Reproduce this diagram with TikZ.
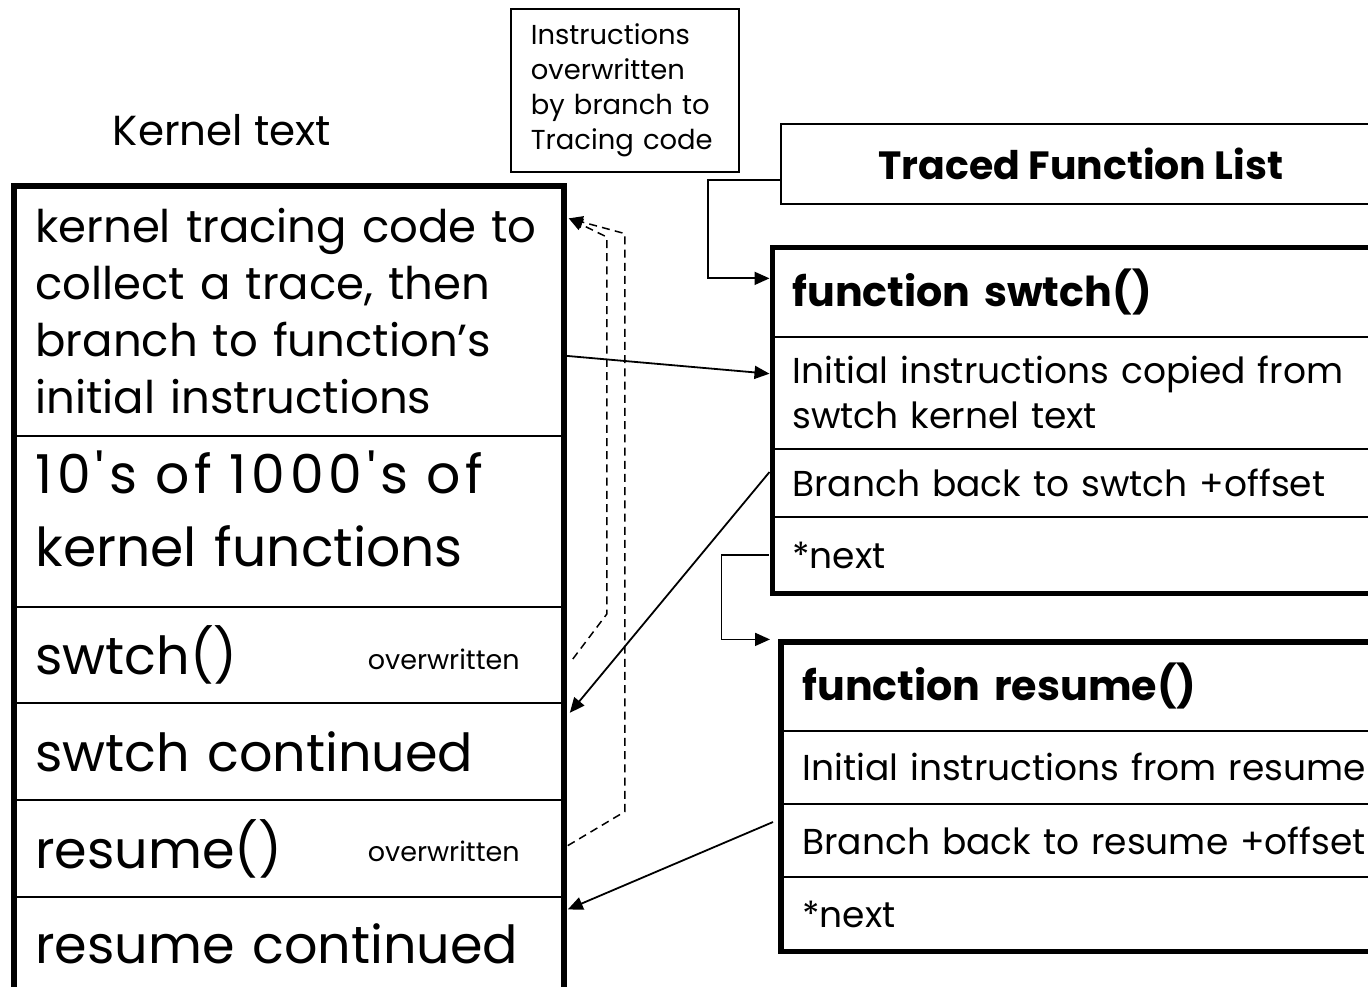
\documentclass[tikz,border=0pt]{standalone}
\usepackage{fontspec}
\setmainfont{Poppins}[Ligatures=TeXOff]
\usetikzlibrary{arrows.meta}
\tikzset{
  cell/.style={anchor=north west, inner xsep=10.5pt, inner ysep=0pt, align=left},
  divider/.style={line width=1pt},
  outer/.style={line width=2.7pt},
  conn/.style={line width=0.9pt, -{Triangle[length=7.5pt,width=6.5pt]}},
  dashconn/.style={line width=0.75pt, dash pattern=on 4pt off 2.6pt, -{Triangle[length=7pt,width=6pt]}},
  big/.style={font=\fontsize{26.2pt}{37.5pt}\selectfont},
  huge/.style={font=\fontsize{26.8pt}{36.5pt}\selectfont},
  mid/.style={font=\fontsize{22.5pt}{28.5pt}\selectfont},
  rtxt/.style={font=\fontsize{18pt}{22.5pt}\selectfont},
  rtitle/.style={font=\fontsize{20.6pt}{24pt}\selectfont\bfseries},
  small/.style={font=\fontsize{13.5pt}{15pt}\selectfont},
}
\begin{document}
\begin{tikzpicture}[x=0.5pt,y=-0.5pt]
\useasboundingbox (0,0) rectangle (1368,986);
\clip (0,0) rectangle (1368,986);

% Kernel text label
\node[font=\fontsize{21pt}{24pt}\selectfont] (ktl) at (222,130) {Kernel text};

% Left box cells
\node[cell, mid, text width=253.5pt, minimum height=124.5pt] (k1) at (14,186)
  {kernel tracing code to\\collect a trace, then\\branch to function’s\\initial instructions};
\node[cell, huge, text width=253.5pt, minimum height=85pt] (k2) at (k1.south west)
  {{\addfontfeature{LetterSpace=9}10's of 1000's of}\\kernel functions\rule[-13pt]{0pt}{1pt}};
\node[cell, big, text width=253.5pt, minimum height=48pt] (k3) at (k2.south west) {swtch()};
\node[cell, big, text width=253.5pt, minimum height=48pt] (k4) at (k3.south west) {swtch continued};
\node[cell, big, text width=253.5pt, minimum height=48pt] (k5) at (k4.south west) {resume()};
\node[cell, big, text width=253.5pt, minimum height=46pt] (k6) at (k5.south west) {resume continued};
\node[anchor=base east, inner sep=0pt, small] (ow1) at (520,669) {overwritten};
\node[anchor=base east, inner sep=0pt, small] (ow2) at (520,861) {overwritten};
\foreach \c in {k1,k2,k3,k4,k5}{\draw[divider] (\c.south west) -- (\c.south east);}
\draw[outer] ([yshift=-20pt]k6.south west) -- (k1.north west) -- (k1.north east) -- ([yshift=-20pt]k6.south east);

% Instructions note
\node[draw, line width=0.9pt, anchor=north west, inner xsep=10pt, inner ysep=0pt, text width=94pt, minimum height=81.5pt, align=left,
  font=\fontsize{13.7pt}{17.5pt}\selectfont] (note) at (510,8)
  {Instructions\\overwritten\\by branch to\\Tracing code};

% Traced Function List
\node[draw, line width=0.9pt, anchor=north west, minimum width=300pt, minimum height=40pt,
  font=\fontsize{19.7pt}{22pt}\selectfont\bfseries] (tfl) at (780,123) {Traced Function List};

% swtch box
\node[cell, rtitle, inner xsep=9.75pt, text width=294.5pt, minimum height=44.25pt] (s1) at (772.5,247.5) {function swtch()};
\node[cell, rtxt, inner xsep=9.75pt, text width=294.5pt, minimum height=55.5pt] (s2) at (s1.south west)
  {Initial instructions copied from\\swtch kernel text};
\node[cell, rtxt, inner xsep=9.75pt, text width=294.5pt, minimum height=34pt] (s3) at (s2.south west) {Branch back to swtch +offset};
\node[cell, rtxt, inner xsep=9.75pt, text width=294.5pt, minimum height=37.5pt] (s4) at (s3.south west) {*next};
\foreach \c in {s1,s2,s3}{\draw[divider] (\c.south west) -- (\c.south east);}
\draw[outer] (s1.north east) -- (s1.north west) -- (s4.south west) -- (s4.south east);

% resume box
\node[cell, rtitle, text width=288.5pt, minimum height=44pt] (r1) at (781,642) {function resume()};
\node[cell, rtxt, text width=288.5pt, minimum height=36pt] (r2) at (r1.south west) {Initial instructions from resume};
\node[cell, rtxt, text width=288.5pt, minimum height=36.5pt] (r3) at (r2.south west) {Branch back to resume +offset};
\node[cell, rtxt, text width=288.5pt, minimum height=36.5pt] (r4) at (r3.south west) {*next};
\foreach \c in {r1,r2,r3}{\draw[divider] (\c.south west) -- (\c.south east);}
\draw[outer] (r1.north east) -- (r1.north west) -- (r4.south west) -- (r4.south east);

% connectors
\draw[conn] ([yshift=-8pt]tfl.west) -- ++(-72,0) |- ([xshift=-1.5pt,yshift=6.9pt]s1.west);
\draw[conn] ([xshift=-2pt]s4.west) -- ++(-47,0) |- ([xshift=-5.5pt,yshift=23.5pt]r1.west);
\draw[conn] ([xshift=1.5pt,yshift=-22.5pt]k1.east) -- ([xshift=-1.5pt,yshift=9.5pt]s2.west);
\draw[conn] ([xshift=-1.5pt,yshift=5.5pt]s3.west) -- ([xshift=3pt,yshift=19.5pt]k4.east);
\draw[conn] ([xshift=-4pt,yshift=9.25pt]r3.west) -- ([xshift=2pt,yshift=17pt]k6.east);

% dashed overwrite paths
\draw[dashconn] ([xshift=4.5pt,yshift=-2pt]k3.east) -- ++(34,-45) -- ++(0,-377) -- ([xshift=2.5pt,yshift=46.25pt]k1.east);
\draw[dashconn] ([xshift=2pt,yshift=1.5pt]k5.east) -- ++(57,-34) -- ++(0,-578) -- ([xshift=2.5pt,yshift=46.25pt]k1.east);
\end{tikzpicture}
\end{document}
